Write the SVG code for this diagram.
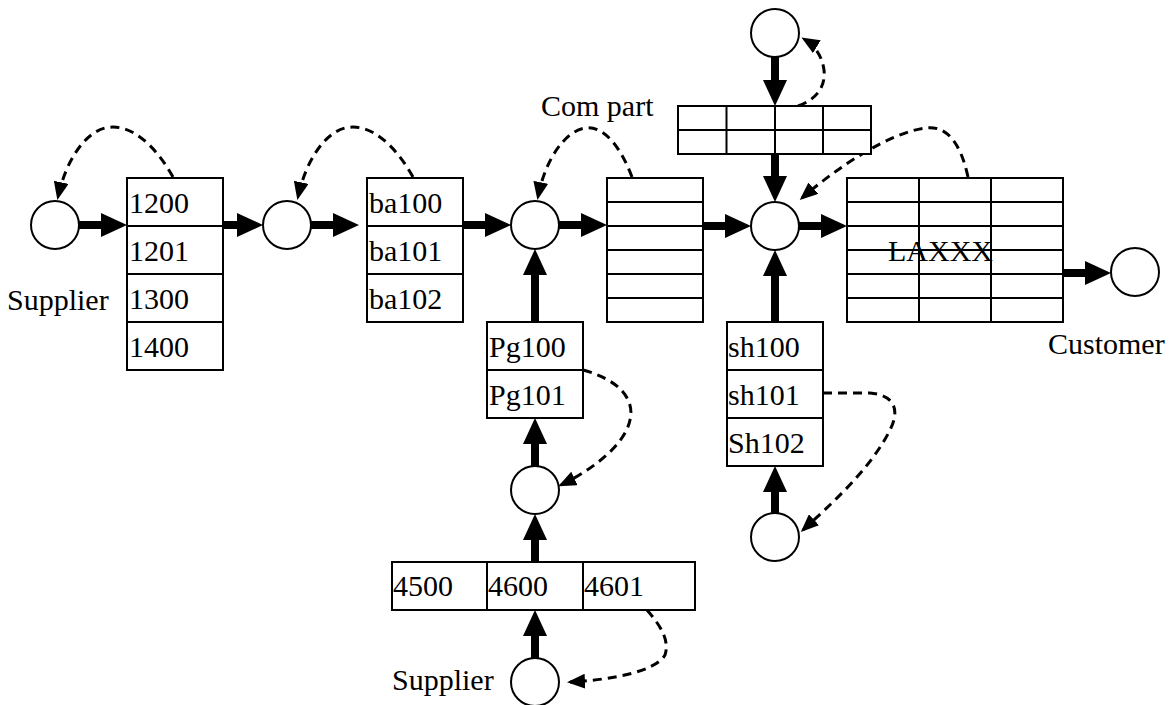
<svg xmlns="http://www.w3.org/2000/svg" width="1170" height="705" viewBox="0 0 1170 705">
<style>
.box{fill:#fff;stroke:#000;stroke-width:2}
.ln{stroke:#000;stroke-width:2;fill:none}
.nd{fill:#fff;stroke:#000;stroke-width:2}
.thick{stroke:#000;stroke-width:8;fill:none;marker-end:url(#ah)}
.dash{stroke:#000;stroke-width:3;fill:none;stroke-dasharray:9 6;marker-end:url(#dh)}
text{font-family:"Liberation Serif","Times New Roman",Times,serif;font-size:30px;fill:#000}
</style>
<defs>
<marker id="ah" markerUnits="userSpaceOnUse" markerWidth="26" markerHeight="24" viewBox="0 0 26 24" refX="2" refY="12" orient="auto"><path d="M0,0 L26,12 L0,24 z" fill="#000"/></marker>
<marker id="dh" markerUnits="userSpaceOnUse" markerWidth="18" markerHeight="15" viewBox="0 0 18 15" refX="15" refY="7.5" orient="auto"><path d="M0,0 L18,7.5 L0,15 z" fill="#000"/></marker>
</defs>
<rect width="1170" height="705" fill="#fff"/>

<g id="connectors">
<line class="thick" x1="79" y1="225" x2="103" y2="225"/>
<line class="thick" x1="223" y1="225" x2="239" y2="225"/>
<line class="thick" x1="311" y1="225" x2="335" y2="225"/>
<line class="thick" x1="463" y1="225" x2="487" y2="225"/>
<line class="thick" x1="559" y1="225" x2="583" y2="225"/>
<line class="thick" x1="703" y1="226" x2="727" y2="226"/>
<line class="thick" x1="799" y1="226" x2="823" y2="226"/>
<line class="thick" x1="1063" y1="273" x2="1087" y2="273"/>
<line class="thick" x1="535" y1="322" x2="535" y2="273"/>
<line class="thick" x1="535" y1="466" x2="535" y2="442"/>
<line class="thick" x1="535" y1="562" x2="535" y2="538"/>
<line class="thick" x1="535" y1="658" x2="535" y2="634"/>
<line class="thick" x1="775" y1="57" x2="775" y2="82"/>
<line class="thick" x1="775" y1="154" x2="775" y2="178"/>
<line class="thick" x1="775" y1="322" x2="775" y2="274"/>
<line class="thick" x1="775" y1="513" x2="775" y2="490"/>

<path class="dash" d="M173,177 C155,145 130,122 105,128 C85,133 66,160 58,197"/>
<path class="dash" d="M413,177 C395,145 370,122 345,128 C325,133 306,160 298,197"/>
<path class="dash" d="M632,177 C622,150 605,125 585,128 C565,131 545,160 538,197"/>
<path class="dash" d="M798,106 C815,100 826,88 824,70 C822,55 814,45 804,39"/>
<path class="dash" d="M968,177 C960,140 945,125 925,128 C890,133 840,165 802,198"/>
<path class="dash" d="M583,370 C620,380 635,400 630,420 C625,445 592,470 561,485"/>
<path class="dash" d="M823,393 L870,393 C895,395 900,410 890,430 C870,470 830,505 803,530"/>
<path class="dash" d="M647,610 C660,625 670,640 665,655 C655,672 610,680 570,682"/>
</g>

<g id="src-supplier"><circle class="nd" cx="55" cy="225" r="24"/><text x="7" y="310">Supplier</text></g>
<g id="stock-1200">
<rect class="box" x="127" y="178" width="96" height="192"/>
<line class="ln" x1="127" y1="226" x2="223" y2="226"/>
<line class="ln" x1="127" y1="274" x2="223" y2="274"/>
<line class="ln" x1="127" y1="322" x2="223" y2="322"/>
<text x="129" y="213">1200</text><text x="129" y="261">1201</text><text x="129" y="309">1300</text><text x="129" y="357">1400</text>
</g>
<g id="proc-2"><circle class="nd" cx="287" cy="225" r="24"/></g>
<g id="stock-ba">
<rect class="box" x="367" y="178" width="96" height="144"/>
<line class="ln" x1="367" y1="226" x2="463" y2="226"/>
<line class="ln" x1="367" y1="274" x2="463" y2="274"/>
<text x="369" y="213">ba100</text><text x="369" y="261">ba101</text><text x="369" y="309">ba102</text>
</g>
<g id="proc-3"><circle class="nd" cx="535" cy="225" r="24"/></g>
<g id="stock-com">
<text x="541" y="116">Com part</text>
<rect class="box" x="607" y="178" width="96" height="144"/>
<line class="ln" x1="607" y1="202" x2="703" y2="202"/>
<line class="ln" x1="607" y1="226" x2="703" y2="226"/>
<line class="ln" x1="607" y1="250" x2="703" y2="250"/>
<line class="ln" x1="607" y1="274" x2="703" y2="274"/>
<line class="ln" x1="607" y1="298" x2="703" y2="298"/>
</g>
<g id="stock-pg">
<rect class="box" x="487" y="322" width="96" height="96"/>
<line class="ln" x1="487" y1="370" x2="583" y2="370"/>
<text x="489" y="357">Pg100</text><text x="489" y="405">Pg101</text>
</g>
<g id="proc-5"><circle class="nd" cx="535" cy="490" r="24"/></g>
<g id="stock-4500">
<rect class="box" x="392" y="562" width="303" height="48"/>
<line class="ln" x1="487" y1="562" x2="487" y2="610"/>
<line class="ln" x1="583" y1="562" x2="583" y2="610"/>
<text x="393" y="596">4500</text><text x="488" y="596">4600</text><text x="584" y="596">4601</text>
</g>
<g id="src-supplier-2"><circle class="nd" cx="535" cy="682" r="24"/><text x="392" y="690">Supplier</text></g>
<g id="proc-top"><circle class="nd" cx="775" cy="33" r="24"/></g>
<g id="stock-top">
<rect class="box" x="678" y="106" width="193" height="48"/>
<line class="ln" x1="678" y1="130" x2="871" y2="130"/>
<line class="ln" x1="726.5" y1="106" x2="726.5" y2="154"/>
<line class="ln" x1="775" y1="106" x2="775" y2="154"/>
<line class="ln" x1="823" y1="106" x2="823" y2="154"/>
</g>
<g id="proc-4"><circle class="nd" cx="775" cy="226" r="24"/></g>
<g id="stock-sh">
<rect class="box" x="727" y="322" width="96" height="144"/>
<line class="ln" x1="727" y1="370" x2="823" y2="370"/>
<line class="ln" x1="727" y1="418" x2="823" y2="418"/>
<text x="728" y="357">sh100</text><text x="728" y="405">sh101</text><text x="728" y="453">Sh102</text>
</g>
<g id="proc-6"><circle class="nd" cx="775" cy="537" r="24"/></g>
<g id="stock-laxxx">
<rect class="box" x="847" y="178" width="216" height="144"/>
<line class="ln" x1="847" y1="202" x2="1063" y2="202"/>
<line class="ln" x1="847" y1="226" x2="1063" y2="226"/>
<line class="ln" x1="847" y1="250" x2="1063" y2="250"/>
<line class="ln" x1="847" y1="274" x2="1063" y2="274"/>
<line class="ln" x1="847" y1="298" x2="1063" y2="298"/>
<line class="ln" x1="919" y1="178" x2="919" y2="322"/>
<line class="ln" x1="991" y1="178" x2="991" y2="322"/>
<text x="888" y="261" fill="#333">LAXXX</text>
</g>
<g id="customer"><circle class="nd" cx="1135" cy="272" r="24"/><text x="1048" y="354">Customer</text></g>
</svg>
